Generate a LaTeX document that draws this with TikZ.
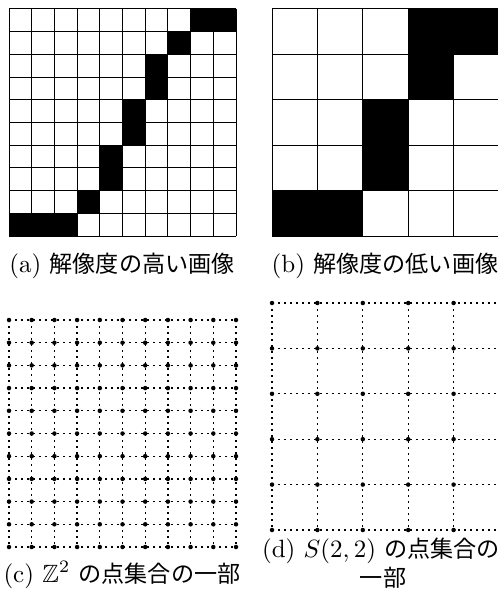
\documentclass[tikz,border=0pt]{standalone}
\usepackage{amssymb}
\usepackage{fontspec}
\newfontfamily\cjk[Scale=0.925]{Noto Sans CJK JP}
\begin{document}
\begin{tikzpicture}[x=0.4pt,y=-0.4pt,
  gridline/.style={line width=0.4pt},
  dotline/.style={dash pattern=on 0.9pt off 1.5pt,line width=0.5pt},
  caption/.style={anchor=base,inner sep=0pt,font=\fontsize{10}{12}\selectfont}]
\useasboundingbox (0,0) rectangle (498,606);
% (a) high resolution image
\foreach \r/\c in {0/8,0/9,1/7,2/6,3/6,4/5,5/5,6/4,7/4,8/3,9/0,9/1,9/2}
  \fill (9+\c*22.7,9+\r*22.7) rectangle ++(22.7,22.7);
\foreach \i in {0,...,10} {
  \draw[gridline] (9+\i*22.7,9) -- (9+\i*22.7,236);
  \draw[gridline] (9,9+\i*22.7) -- (236,9+\i*22.7);
}
% (b) low resolution image
\foreach \r/\c in {0/3,0/4,1/3,2/2,3/2,4/0,4/1}
  \fill (272+\c*45.4,9+\r*45.4) rectangle ++(45.4,45.4);
\foreach \i in {0,...,5} {
  \draw[gridline] (272+\i*45.4,9) -- (272+\i*45.4,236);
  \draw[gridline] (272,9+\i*45.4) -- (499,9+\i*45.4);
}
% (c) part of Z^2
\foreach \i in {0,...,10} {
  \draw[dotline] (9+\i*22.7,320) -- (9+\i*22.7,547);
  \draw[dotline] (9,320+\i*22.7) -- (236,320+\i*22.7);
}
\foreach \i in {0,...,10}
  \foreach \j in {0,...,10}
    \fill (9+\i*22.7,320+\j*22.7) circle[radius=0.9pt];
% (d) part of S(2,2)
\foreach \i in {0,...,4}
  \draw[dotline] (272+\i*45.4,303) -- (272+\i*45.4,530);
\foreach \j in {0,...,5}
  \draw[dotline] (272,303+\j*45.4) -- (499,303+\j*45.4);
\foreach \i in {0,...,4}
  \foreach \j in {0,...,5}
    \fill (272+\i*45.4,303+\j*45.4) circle[radius=0.9pt];
% captions
\node[caption] (capa) at (122,272) {(a) {\cjk 解像度の高い画像}};
\node[caption] (capb) at (385,272) {(b) {\cjk 解像度の低い画像}};
\node[caption] (capc) at (122,582) {(c) $\mathbb{Z}^2$ {\cjk の点集合の一部}};
\node[caption] (capd1) at (381,557) {(d) $S(2,2)$ {\cjk の点集合の}};
\node[caption] (capd2) at (383,586) {{\cjk 一部}};
\end{tikzpicture}
\end{document}
